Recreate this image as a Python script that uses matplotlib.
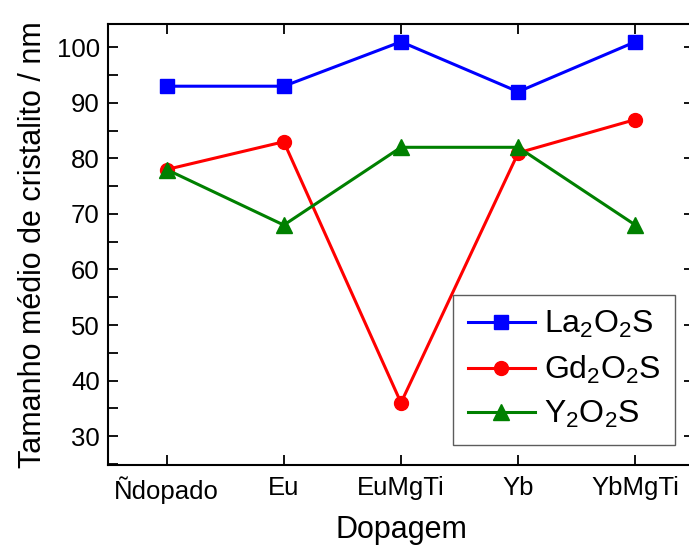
import matplotlib
matplotlib.use('Agg')
import matplotlib.pyplot as plt
from matplotlib.ticker import MultipleLocator

# dados
categorias = ['Ñdopado', 'Eu', 'EuMgTi', 'Yb', 'YbMgTi']
la2o2s = [93, 93, 101, 92, 101]
gd2o2s = [78, 83, 36, 81, 87]
y2o2s = [78, 68, 82, 82, 68]

plt.rcParams['font.family'] = ['Liberation Sans', 'DejaVu Sans']
plt.rcParams['mathtext.default'] = 'regular'

fig = plt.figure(figsize=(6.89, 5.48), dpi=100)
# eixo vai um pouco alem da borda direita, como no original
ax = fig.add_axes([108 / 689, 1 - 465 / 548, (694 - 108) / 689, (465 - 24) / 548])

x = range(len(categorias))
ax.plot(x, la2o2s, color='blue', marker='s', lw=2.2, ms=10, label='La$_2$O$_2$S')
ax.plot(x, gd2o2s, color='red', marker='o', lw=2.2, ms=10, label='Gd$_2$O$_2$S')
ax.plot(x, y2o2s, color='green', marker='^', lw=2.2, ms=11, label='Y$_2$O$_2$S')

ax.set_xlim(-0.5, 4.5)
ax.set_ylim(24.8, 104.2)
ax.set_xticks(list(x))
ax.set_xticklabels(categorias)
ax.yaxis.set_major_locator(MultipleLocator(10))
ax.yaxis.set_minor_locator(MultipleLocator(5))

ax.tick_params(axis='both', which='both', direction='in', top=True, right=True,
               labelsize=18.5, width=1.3, length=7)
ax.tick_params(axis='y', which='minor', right=False)
ax.tick_params(axis='x', pad=8)
ax.tick_params(axis='y', pad=6)
for s in ax.spines.values():
    s.set_linewidth(1.5)

ax.set_xlabel('Dopagem', fontsize=22, labelpad=8)
ax.set_ylabel('Tamanho médio de cristalito / nm', fontsize=22, labelpad=6)

leg = ax.legend(loc='lower right', bbox_to_anchor=(0.968, 0.046), fontsize=23,
                frameon=True, fancybox=False, edgecolor='#333333',
                handlelength=2.1, borderpad=0.45, labelspacing=0.42, handletextpad=0.3,
                borderaxespad=0)
leg.get_frame().set_linewidth(1.0)

fig.savefig('out.png', dpi=100)
